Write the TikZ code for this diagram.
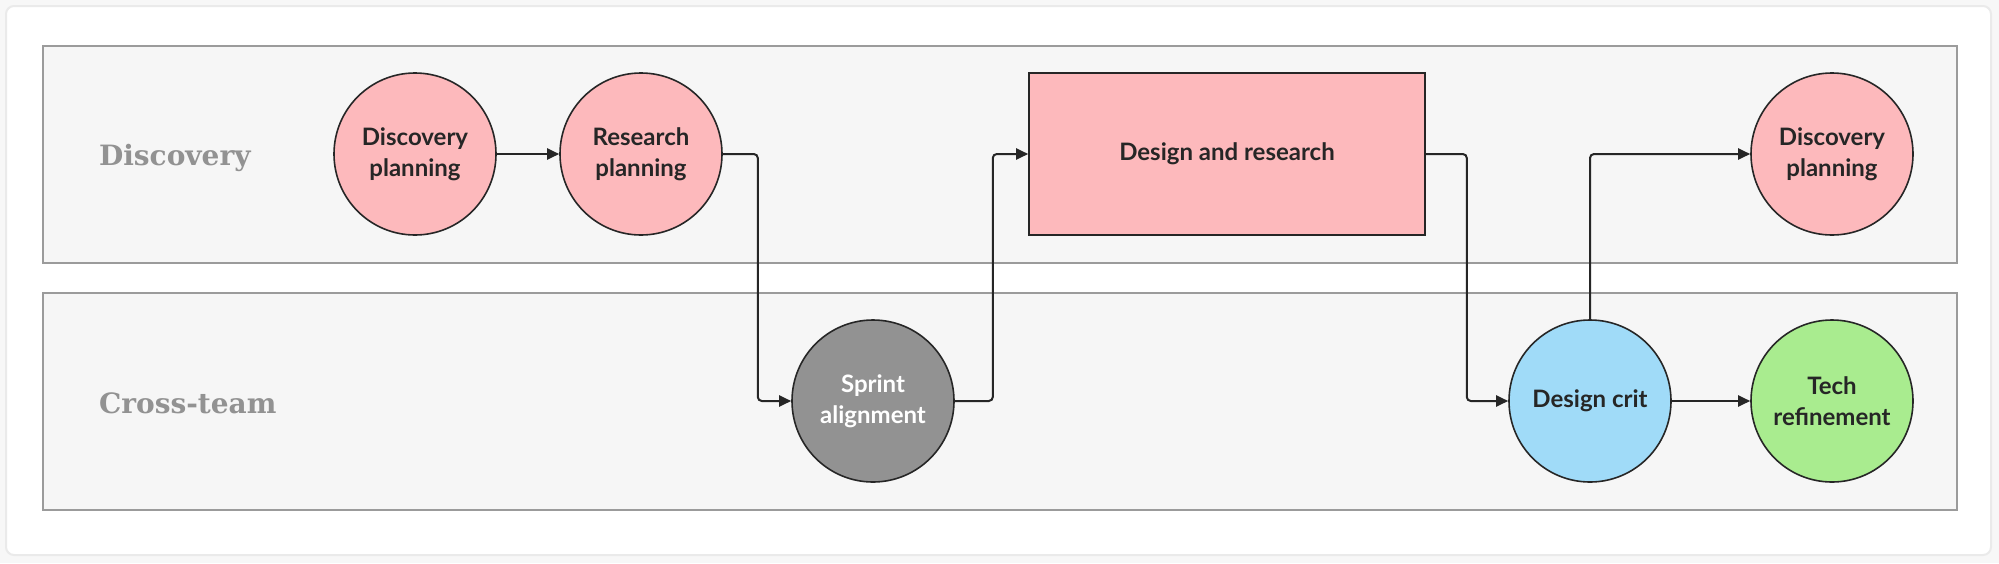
\documentclass[tikz,border=0pt]{standalone}
\usepackage{fontspec}
\setmainfont{Lato}
\newfontfamily\lanefont{DejaVu Serif}
\usetikzlibrary{arrows.meta, positioning}
\definecolor{pagegray}{HTML}{F7F7F7}
\definecolor{cardline}{HTML}{EAEAEA}
\definecolor{lanefill}{HTML}{F6F6F6}
\definecolor{laneline}{HTML}{9B9B9B}
\definecolor{lanetext}{HTML}{929292}
\definecolor{pinkfill}{HTML}{FDB9BC}
\definecolor{sprintgray}{HTML}{929292}
\definecolor{critblue}{HTML}{A0DBF8}
\definecolor{techgreen}{HTML}{A9EC8F}
\definecolor{inkdark}{HTML}{262626}

\tikzset{
  lane/.style={draw=laneline, fill=lanefill, line width=1pt},
  lanelabel/.style={anchor=base west, text=lanetext, font=\lanefont\bfseries\fontsize{14}{17}\selectfont},
  task/.style={circle, draw=inkdark, line width=0.8pt, minimum size=81pt, inner sep=0pt,
    align=center, text=inkdark, font=\bfseries\fontsize{12}{15.5}\selectfont},
  flow/.style={draw=inkdark, line width=1pt, rounded corners=2pt,
    -{Triangle[length=6pt, width=5.5pt]}},
}

\begin{document}
\begin{tikzpicture}[x=0.5pt, y=-0.5pt]
    % page and card
    \fill [pagegray] (0,0) rectangle (1999,563);
    \useasboundingbox (0,0) rectangle (1999,563);
    \draw [cardline, fill=white, line width=1pt, rounded corners=4pt] (6,6) rectangle (1991,555);

    % swim lanes
    \draw [lane] (43,46) rectangle (1957,263);
    \draw [lane] (43,293) rectangle (1957,510);
    \node [lanelabel] (discovery) at (92,165) {Discovery};
    \node [lanelabel] (crossteam) at (92,413) {Cross-team};

    % tasks
    \node [task, fill=pinkfill] (dp) at (415,154) {Discovery\\planning};
    \node [task, fill=pinkfill] (rp) at (641,154) {Research\\planning};
    \node [task, fill=sprintgray, text=white] (sa) at (873,401) {Sprint\\alignment};
    \node [task, rectangle, fill=pinkfill, minimum width=198pt, minimum height=81pt]
      (dr) at (1227,154) {Design and research};
    \node [task, fill=critblue] (dc) at (1590,401) {Design crit};
    \node [task, fill=pinkfill] (dpb) at (1832,154) {Discovery\\planning};
    \node [task, fill=techgreen] (tr) at (1832,401) {Tech\\refinement};

    % connectors
    \draw [flow] (dp) -- (rp);
    \draw [flow] (rp.east) -- ++(35,0) |- (sa.west);
    \draw [flow] (sa.east) -- ++(38,0) |- (dr.west);
    \draw [flow] (dr.east) -- ++(41,0) |- (dc.west);
    \draw [flow] (dc.north) |- (dpb.west);
    \draw [flow] (dc) -- (tr);
\end{tikzpicture}
\end{document}
